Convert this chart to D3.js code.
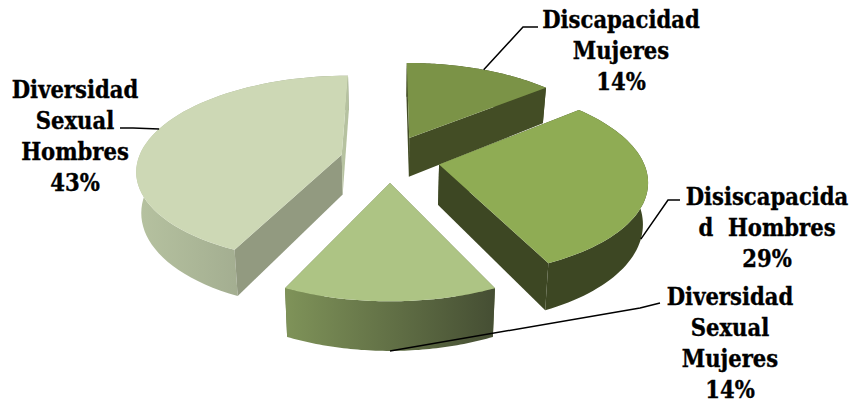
<!DOCTYPE html>
<html>
<head>
<meta charset="utf-8">
<title>D3</title>
<script src="https://d3js.org/d3.v7.min.js"></script>
<style>
  html, body { margin: 0; padding: 0; background: #fff; }
  svg { display: block; }
  text { font-family: "DejaVu Serif Condensed", "DejaVu Serif", serif; font-weight: bold; font-size: 23.5px; fill: #000; stroke: #000; stroke-width: 0.35px; text-anchor: middle; }
</style>
</head>
<body>
<svg id="chart" width="852" height="403"></svg>
<script>
// data
var nombres = [
  ["Discapacidad", "Mujeres"],
  ["Disiscapacida", "d  Hombres"],
  ["Diversidad", "Sexual", "Mujeres"],
  ["Diversidad", "Sexual", "Hombres"]
];
var valores = [14, 29, 14, 43];

// styling, per slice
var colorTop  = ["#7b9347", "#8fac54", "#adc484", "#cdd8b5"];
var colorCut  = ["#434d25", "#3d4723", "#5f6e40", "#929a80"];
var wallLeft  = ["#434d25", "#3d4723", "#7f9359", "#b6c2a0"];
var wallRight = ["#434d25", "#3d4723", "#454e33", "#8f9880"];
var explode   = [0.23, 0.245, 0.28, 0.245];
var depthNudge = [0, 0.035, 0, 0.035];
var drawOrder = [0, 3, 1, 2];

// label blocks: centre x, first baseline, elbow of the leader, where on the slice it starts
var labelX    = [621, 767, 730, 75];
var labelY    = [28, 205, 305, 98];
var elbows    = [[[523, 27], [538, 27]], [[668, 200], [680, 200]], [[640, 308], [660, 303]], [[133, 128], [120, 128]]];
var leaderAt  = [0.52, 0.56, 0.5, 0.53];
var leaderLow = [false, true, true, false];

var svg = d3.select("#chart");
var defs = svg.append("defs");

// perspective: Y is depth (positive towards the viewer), z is 0 on top and 1 at the base
var cx = 390, yVanish = -450, kx = 0.334, a = 0.0016492, b = 0.0002486, wallH = 0.066, wallShrink = 0.98;

function project(X, Y, z) {
  var dist = 1 / (a - b * Y);
  var px = kx * dist * X * (1 - (1 - wallShrink) * z);
  return [cx + px, yVanish + dist * (1 + wallH * z)];
}

var pie = d3.pie().sort(null).value(function(d) { return d; });
var slices = pie(valores);

function offset(d, i) {
  var mid = (d.startAngle + d.endAngle) / 2;
  return [explode[i] * Math.sin(mid), depthNudge[i] - explode[i] * Math.cos(mid)];
}
function rim(d, i, t, z) {
  var o = offset(d, i);
  var ang = d.startAngle + (d.endAngle - d.startAngle) * t;
  return project(o[0] + Math.sin(ang), o[1] - Math.cos(ang), z);
}
function rimPoints(d, i, z) {
  return d3.range(0, 61).map(function(k) { return rim(d, i, k / 60, z); });
}

var line = d3.line();

drawOrder.forEach(function(i) {
  var d = slices[i];
  var o = offset(d, i);
  var g = svg.append("g").attr("class", "slice");

  var gradId = "wall" + i;
  var grad = defs.append("linearGradient").attr("id", gradId);
  grad.append("stop").attr("offset", "0%").attr("stop-color", wallLeft[i]);
  grad.append("stop").attr("offset", "100%").attr("stop-color", wallRight[i]);

  function drawWall() {
    g.append("path")
      .attr("d", line(rimPoints(d, i, 0).concat(rimPoints(d, i, 1).reverse())) + "Z")
      .attr("fill", "url(#" + gradId + ")");
  }

  // slices facing away get the wall behind the cut faces, the others in front
  var facesBack = Math.cos((d.startAngle + d.endAngle) / 2) > 0;
  if (facesBack) drawWall();

  var apexTop = project(o[0], o[1], 0), apexLow = project(o[0], o[1], 1);
  [0, 1].forEach(function(t) {
    var face = [apexTop, rim(d, i, t, 0), rim(d, i, t, 1), apexLow];
    var fill = colorCut[i];
    if (i == 3 && t == 1) fill = "#b6c2a0";
    g.append("path").attr("d", line(face) + "Z").attr("fill", fill);
  });

  if (!facesBack) drawWall();

  // top
  g.append("path")
    .attr("d", line([apexTop].concat(rimPoints(d, i, 0))) + "Z")
    .attr("fill", colorTop[i]);
});

// leaders and labels
valores.forEach(function(v, i) {
  var start = rim(slices[i], i, leaderAt[i], leaderLow[i] ? 1 : 0);
  svg.append("path")
    .attr("d", line([start].concat(elbows[i])))
    .attr("fill", "none")
    .attr("stroke", "#000")
    .attr("stroke-width", 1.5);

  var rows = nombres[i].concat([v + "%"]);
  var t = svg.append("text").attr("xml:space", "preserve");
  rows.forEach(function(r, k) {
    t.append("tspan").attr("x", labelX[i]).attr("y", labelY[i] + k * 31).text(r);
  });
});
</script>
</body>
</html>
